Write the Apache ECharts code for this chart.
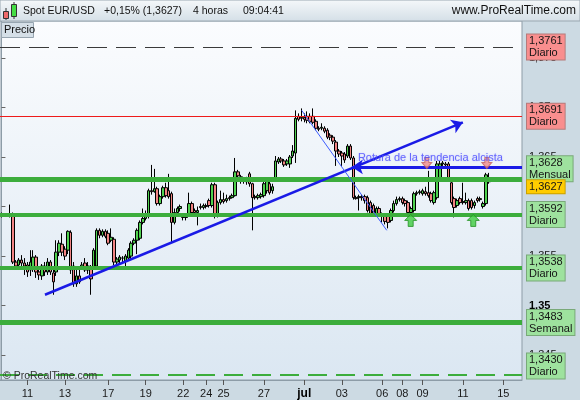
<!DOCTYPE html>
<html><head><meta charset="utf-8">
<script src="https://cdn.jsdelivr.net/npm/echarts@6/dist/echarts.min.js"></script>
<style>html,body{margin:0;padding:0;background:#ccdae3}#c{width:580px;height:400px}</style>
</head><body><div id="c"></div>
<script>
// ---- data (4h candles, EUR/USD) ----
const open = [1.3592,1.3591,1.3592,1.3591,1.3592,1.3544,1.3541,1.3546,1.3543,1.3541,
1.3536,1.3537,1.3549,1.3534,1.3530,1.3540,1.3534,1.3544,1.3533,1.3534,
1.3554,1.3562,1.3557,1.3556,1.3574,1.3540,1.3522,1.3530,1.3539,1.3543,
1.3540,1.3538,1.3538,1.3540,1.3576,1.3571,1.3575,1.3573,1.3566,1.3567,
1.3544,1.3546,1.3548,1.3545,1.3548,1.3550,1.3563,1.3566,1.3568,1.3584,
1.3588,1.3590,1.3616,1.3615,1.3618,1.3603,1.3610,1.3619,1.3616,1.3613,
1.3584,1.3594,1.3598,1.3591,1.3589,1.3593,1.3603,1.3596,1.3594,1.3600,
1.3599,1.3601,1.3606,1.3601,1.3622,1.3591,1.3604,1.3607,1.3606,1.3609,
1.3609,1.3611,1.3635,1.3630,1.3627,1.3626,1.3633,1.3623,1.3610,1.3609,
1.3610,1.3611,1.3616,1.3623,1.3616,1.3629,1.3645,1.3648,1.3646,1.3643,
1.3643,1.3651,1.3654,1.3691,1.3689,1.3690,1.3691,1.3691,1.3691,1.3686,
1.3679,1.3679,1.3679,1.3677,1.3672,1.3670,1.3665,1.3656,1.3654,1.3653,
1.3651,1.3661,1.3649,1.3609,1.3609,1.3610,1.3610,1.3609,1.3604,1.3601,
1.3593,1.3598,1.3592,1.3591,1.3591,1.3586,1.3596,1.3603,1.3607,1.3608,
1.3606,1.3604,1.3594,1.3596,1.3613,1.3614,1.3613,1.3615,1.3614,1.3613,
1.3604,1.3609,1.3629,1.3643,1.3643,1.3643,1.3624,1.3608,1.3601,1.3608,
1.3605,1.3604,1.3606,1.3606,1.3601,1.3608,1.3607,1.3600,1.3603,1.3625];
const close = [1.3591,1.3592,1.3591,1.3592,1.3544,1.3540,1.3546,1.3543,1.3540,1.3534,
1.3544,1.3549,1.3534,1.3531,1.3540,1.3534,1.3544,1.3534,1.3524,1.3554,
1.3563,1.3554,1.3550,1.3575,1.3536,1.3522,1.3530,1.3524,1.3541,1.3536,
1.3536,1.3527,1.3556,1.3576,1.3571,1.3575,1.3570,1.3563,1.3569,1.3544,
1.3547,1.3549,1.3548,1.3550,1.3556,1.3563,1.3566,1.3576,1.3584,1.3588,
1.3591,1.3616,1.3615,1.3618,1.3603,1.3610,1.3619,1.3611,1.3610,1.3584,
1.3594,1.3598,1.3600,1.3589,1.3590,1.3603,1.3594,1.3594,1.3596,1.3599,
1.3601,1.3600,1.3601,1.3622,1.3591,1.3604,1.3607,1.3605,1.3608,1.3608,
1.3611,1.3635,1.3631,1.3626,1.3626,1.3625,1.3623,1.3609,1.3609,1.3611,
1.3612,1.3623,1.3626,1.3614,1.3620,1.3646,1.3648,1.3646,1.3642,1.3646,
1.3650,1.3656,1.3689,1.3688,1.3690,1.3688,1.3687,1.3686,1.3685,1.3679,
1.3678,1.3680,1.3676,1.3670,1.3670,1.3666,1.3656,1.3653,1.3651,1.3647,
1.3661,1.3649,1.3609,1.3608,1.3610,1.3609,1.3606,1.3596,1.3593,1.3593,
1.3598,1.3593,1.3590,1.3585,1.3584,1.3596,1.3603,1.3607,1.3608,1.3604,
1.3603,1.3594,1.3598,1.3613,1.3614,1.3615,1.3616,1.3613,1.3611,1.3606,
1.3614,1.3643,1.3643,1.3644,1.3642,1.3629,1.3604,1.3599,1.3606,1.3604,
1.3604,1.3606,1.3598,1.3599,1.3604,1.3606,1.3608,1.3603,1.3632,1.3628];
const low = [1.3589,1.3590,1.3590,1.3589,1.3542,1.3536,1.3538,1.3538,1.3531,1.3529,
1.3530,1.3534,1.3528,1.3526,1.3526,1.3530,1.3531,1.3531,1.3511,1.3530,
1.3550,1.3550,1.3546,1.3552,1.3532,1.3519,1.3519,1.3522,1.3537,1.3534,
1.3532,1.3511,1.3536,1.3538,1.3568,1.3569,1.3568,1.3561,1.3564,1.3541,
1.3540,1.3543,1.3543,1.3539,1.3546,1.3547,1.3561,1.3552,1.3566,1.3582,
1.3586,1.3588,1.3612,1.3614,1.3601,1.3601,1.3608,1.3609,1.3608,1.3564,
1.3582,1.3592,1.3595,1.3586,1.3586,1.3591,1.3592,1.3592,1.3581,1.3597,
1.3597,1.3598,1.3599,1.3599,1.3588,1.3589,1.3602,1.3603,1.3604,1.3606,
1.3608,1.3610,1.3628,1.3623,1.3623,1.3622,1.3620,1.3576,1.3607,1.3607,
1.3608,1.3609,1.3613,1.3612,1.3613,1.3627,1.3643,1.3644,1.3640,1.3641,
1.3639,1.3649,1.3644,1.3686,1.3686,1.3685,1.3684,1.3684,1.3683,1.3677,
1.3676,1.3677,1.3674,1.3668,1.3667,1.3663,1.3641,1.3650,1.3641,1.3644,
1.3649,1.3647,1.3607,1.3607,1.3596,1.3606,1.3603,1.3594,1.3591,1.3591,
1.3591,1.3590,1.3584,1.3582,1.3578,1.3584,1.3594,1.3601,1.3605,1.3602,
1.3600,1.3592,1.3592,1.3594,1.3611,1.3612,1.3611,1.3611,1.3609,1.3604,
1.3602,1.3607,1.3627,1.3641,1.3640,1.3626,1.3602,1.3589,1.3599,1.3602,
1.3602,1.3602,1.3596,1.3597,1.3598,1.3604,1.3605,1.3598,1.3601,1.3623];
const high = [1.3594,1.3593,1.3593,1.3602,1.3594,1.3546,1.3548,1.3551,1.3548,1.3544,
1.3556,1.3556,1.3551,1.3536,1.3542,1.3544,1.3548,1.3546,1.3536,1.3566,
1.3566,1.3573,1.3560,1.3576,1.3576,1.3544,1.3536,1.3538,1.3544,1.3548,
1.3544,1.3541,1.3558,1.3578,1.3578,1.3577,1.3577,1.3576,1.3578,1.3569,
1.3549,1.3551,1.3550,1.3552,1.3558,1.3565,1.3568,1.3578,1.3586,1.3598,
1.3596,1.3618,1.3642,1.3638,1.3620,1.3612,1.3621,1.3624,1.3633,1.3615,
1.3598,1.3600,1.3602,1.3593,1.3593,1.3614,1.3605,1.3598,1.3600,1.3603,
1.3603,1.3603,1.3608,1.3624,1.3624,1.3606,1.3616,1.3614,1.3612,1.3611,
1.3613,1.3649,1.3637,1.3632,1.3629,1.3630,1.3635,1.3624,1.3612,1.3613,
1.3614,1.3625,1.3628,1.3625,1.3623,1.3651,1.3650,1.3650,1.3648,1.3648,
1.3652,1.3662,1.3697,1.3694,1.3699,1.3694,1.3696,1.3694,1.3699,1.3688,
1.3681,1.3684,1.3681,1.3679,1.3674,1.3672,1.3667,1.3658,1.3656,1.3655,
1.3663,1.3663,1.3651,1.3611,1.3612,1.3612,1.3612,1.3611,1.3606,1.3603,
1.3600,1.3600,1.3594,1.3593,1.3593,1.3598,1.3606,1.3610,1.3610,1.3610,
1.3608,1.3606,1.3600,1.3615,1.3616,1.3617,1.3618,1.3620,1.3636,1.3615,
1.3616,1.3646,1.3646,1.3646,1.3645,1.3645,1.3626,1.3610,1.3608,1.3610,
1.3624,1.3614,1.3608,1.3608,1.3606,1.3610,1.3610,1.3605,1.3634,1.3634];

const slotCount = 181;              // candle slots incl. empty future space
const dayIndex  = [9,22,37,50,63,71,77,91,105,118,132,139,146,160,174];
const dayLabels = ['11','13','17','19','22','24','25','27','jul','03','06','08','09','11','15'];

const levelValues = [1.3761,1.3691,1.3628,1.3592,1.3538,1.3483,1.3430];
const levelNames  = ['Diario','Diario','Mensual','Diario','Diario','Semanal','Diario'];
const lastPrice = 1.3627;

const uptrend    = [[15.1,1.3511],[160.0,1.3685]];
const downtrend  = [[104.1,1.3697],[133.6,1.3576]];
const breakLine  = [[180.5,1.3640],[121.5,1.3640]];
const breakText  = 'Rotura de la tendencia alcista';
const breakTextAt = [123.6,1.3649];
const sellArrows = [[147.5,1.3644],[168.3,1.3644]];
const buyArrows  = [[141.9,1.3586],[163.6,1.3586]];

// ---- styles ----
const FONT = '"Liberation Sans", Arial, sans-serif';
const RED_TAG = ['#f98e8e','#b57b7b'], GREEN_TAG = ['#9ee29e','#79a979'];
const GREEN = '#3cad3c';
const levelStyle = [
  {line:{color:'#3a3a3a',width:1,type:[20,9]}, tag:RED_TAG, dy:0},
  {line:{color:'#ee1a1a',width:1,type:'solid'}, tag:RED_TAG, dy:0},
  {line:{color:GREEN,width:5,type:'solid'}, tag:GREEN_TAG, dy:-10},
  {line:{color:GREEN,width:4,type:'solid'}, tag:GREEN_TAG, dy:0},
  {line:{color:GREEN,width:4,type:'solid'}, tag:GREEN_TAG, dy:0},
  {line:{color:GREEN,width:5,type:'solid'}, tag:GREEN_TAG, dy:0},
  {line:{color:GREEN,width:2,type:[19,9]}, tag:GREEN_TAG, dy:-9}
];
const fmt = v => String(v.toFixed(4)).replace('.', ',');

const categories = Array.from({length: slotCount}, (_, i) => String(i));
const candles = open.map((o, i) => [o, close[i], low[i], high[i]]);

const tagLabel = (text, bg, border, dy) => ({
  show:true, position:'end', distance:5, formatter:text,
  backgroundColor:bg, borderColor:border, borderWidth:1,
  padding:[1,2,0,2], fontSize:11, lineHeight:12, color:'#151515',
  fontFamily:FONT, offset:[0,dy]
});

const levelLines = levelValues.map((v, i) => ({
  yAxis:v, lineStyle:levelStyle[i].line,
  label: tagLabel(fmt(v) + '\n' + levelNames[i], levelStyle[i].tag[0], levelStyle[i].tag[1], levelStyle[i].dy)
}));
levelLines.push({yAxis:lastPrice, lineStyle:{width:0.01, color:'rgba(0,0,0,0)'},
  label: tagLabel(fmt(lastPrice), '#ffcc00', '#c9a100', 7)});

const chart = echarts.init(document.getElementById('c'), null, {renderer:'canvas'});
const grad = (a, b) => new echarts.graphic.LinearGradient(0,0,0,1,[{offset:0,color:a},{offset:1,color:b}]);

chart.setOption({
  animation:false,
  backgroundColor:'#ccdae3',
  grid:{left:0, right:58, top:21, bottom:20, show:true,
        backgroundColor: grad('#fbfcfe','#dbe7f2'), borderColor:'#8d9ca7', borderWidth:1},
  xAxis:[{
    type:'category', data:categories, boundaryGap:true,
    axisLine:{show:true, lineStyle:{color:'#8d9ca7'}},
    axisTick:{show:true, alignWithLabel:true, length:5, interval:(i)=>dayIndex.includes(i), lineStyle:{color:'#555'}},
    axisLabel:{interval:(i)=>dayIndex.includes(i), margin:8, fontSize:11, color:'#1a1a1a', fontFamily:FONT,
      formatter:(v, i)=>{const k = dayIndex.indexOf(i); if (k<0) return ''; const t = dayLabels[k]; return t==='jul' ? '{b|jul}' : t;},
      rich:{b:{fontWeight:'bold', fontSize:12, fontFamily:FONT, color:'#000'}}},
    splitLine:{show:false}
  },{
    type:'value', min:-0.5, max:slotCount-0.5, show:false
  }],
  yAxis:{
    type:'value', position:'right', min:1.3425, max:1.37872, splitNumber:7,
    splitLine:{show:false},
    axisLine:{show:true, lineStyle:{color:'#8d9ca7'}},
    axisTick:{show:true, length:4, lineStyle:{color:'#666'}},
    axisLabel:{showMinLabel:false, showMaxLabel:false, margin:7, fontSize:11, color:'#111', fontFamily:FONT,
      formatter:(v)=>{ if (Math.abs(v-1.35)<1e-7) return '{b|1,35}'; return String(+v.toFixed(4)).replace('.', ','); },
      rich:{b:{fontWeight:'bold', fontSize:11, fontFamily:FONT, color:'#000'}}}
  },
  graphic:[
    {type:'rect', shape:{x:0,y:0,width:580,height:21}, style:{fill:grad('#f5f8fa','#d4dfe7'), stroke:'#9aa7b1', lineWidth:1}, z:10},
    {type:'line', shape:{x1:6,y1:8,x2:6,y2:20}, style:{stroke:'#333',lineWidth:1}, z:11},
    {type:'rect', shape:{x:3.5,y:11.5,width:5,height:7}, style:{fill:'#ee6b6b',stroke:'#333',lineWidth:1}, z:12},
    {type:'line', shape:{x1:14,y1:2,x2:14,y2:19}, style:{stroke:'#333',lineWidth:1}, z:11},
    {type:'rect', shape:{x:11.5,y:4.5,width:5,height:12}, style:{fill:'#44dd44',stroke:'#333',lineWidth:1}, z:12},
    {type:'text', z:12, style:{text:'Spot EUR/USD', x:23, y:11, fill:'#111', font:'10.5px '+FONT, textAlign:'left', textVerticalAlign:'middle', align:'left', verticalAlign:'middle'}},
    {type:'text', z:12, style:{text:'+0,15% (1,3627)', x:104, y:11, fill:'#111', font:'10.5px '+FONT, textAlign:'left', textVerticalAlign:'middle', align:'left', verticalAlign:'middle'}},
    {type:'text', z:12, style:{text:'4 horas', x:193, y:11, fill:'#111', font:'10.5px '+FONT, textAlign:'left', textVerticalAlign:'middle', align:'left', verticalAlign:'middle'}},
    {type:'text', z:12, style:{text:'09:04:41', x:243, y:11, fill:'#111', font:'10.5px '+FONT, textAlign:'left', textVerticalAlign:'middle', align:'left', verticalAlign:'middle'}},
    {type:'text', z:12, style:{text:'www.ProRealTime.com', x:576, y:11, fill:'#111', font:'12px '+FONT, textAlign:'right', textVerticalAlign:'middle', align:'right', verticalAlign:'middle'}},
    {type:'rect', z:12, shape:{x:1.5,y:22.5,width:32,height:15}, style:{fill:'#d5dfe7', stroke:'#97a5b0', lineWidth:1}},
    {type:'text', z:13, style:{text:'Precio', x:4, y:30, fill:'#111', font:'11px '+FONT, textAlign:'left', textVerticalAlign:'middle', align:'left', verticalAlign:'middle'}},
    {type:'text', z:13, style:{text:'© ProRealTime.com', x:3, y:376, fill:'#333', font:'10.5px '+FONT, textAlign:'left', textVerticalAlign:'middle', align:'left', verticalAlign:'middle'}}
  ],
  series:[
    {
      type:'candlestick', name:'EUR/USD', data:candles, xAxisIndex:0, yAxisIndex:0,
      barWidth:3,
      itemStyle:{color:'#4fd14f', color0:'#f28484', borderColor:'#000', borderColor0:'#000', borderWidth:1},
      markLine:{silent:true, precision:4, symbol:['none','none'], animation:false, data:levelLines}
    },
    {
      type:'line', name:'trend', xAxisIndex:1, yAxisIndex:0, data:[], silent:true,
      markLine:{silent:true, precision:4, animation:false, symbol:['none','arrow'], symbolSize:11,
        label:{show:false},
        data:[
          [{coord:uptrend[0], lineStyle:{color:'#1a1ae6', width:2.5, type:'solid'}}, {coord:uptrend[1]}],
          [{coord:breakLine[0], lineStyle:{color:'#1a1ae6', width:3, type:'solid'}}, {coord:breakLine[1]}]
        ]}
    },
    {
      type:'line', name:'down', xAxisIndex:1, yAxisIndex:0, data:[], silent:true,
      markLine:{silent:true, precision:4, animation:false, symbol:['none','none'], label:{show:false},
        data:[[{coord:downtrend[0], lineStyle:{color:'#3d5cff', width:1, type:'solid'}}, {coord:downtrend[1]}]]}
    },
    {
      type:'scatter', name:'sell', xAxisIndex:1, yAxisIndex:0, data:sellArrows, silent:true,
      symbol:'path://M3,0 L7,0 L7,5 L10,5 L5,11 L0,5 L3,5 Z', symbolSize:[10,11],
      itemStyle:{color:'#f08a8a', borderColor:'#c46262', borderWidth:1}, z:5
    },
    {
      type:'scatter', name:'buy', xAxisIndex:1, yAxisIndex:0, data:buyArrows, silent:true,
      symbol:'path://M6,0 L12,6 L8.5,6 L8.5,12 L3.5,12 L3.5,6 L0,6 Z', symbolSize:[12,12],
      itemStyle:{color:'#3fcc3f', borderColor:'#238f23', borderWidth:1}, z:5
    },
    {
      type:'scatter', name:'note', xAxisIndex:1, yAxisIndex:0, data:[breakTextAt], symbolSize:0, silent:true,
      label:{show:true, position:'right', distance:0, formatter:breakText, fontSize:11, fontFamily:FONT,
             color:'#4b4bff', textShadowColor:'rgba(90,90,255,0.45)', textShadowBlur:1.5}, z:6
    }
  ]
});
</script>
</body></html>
